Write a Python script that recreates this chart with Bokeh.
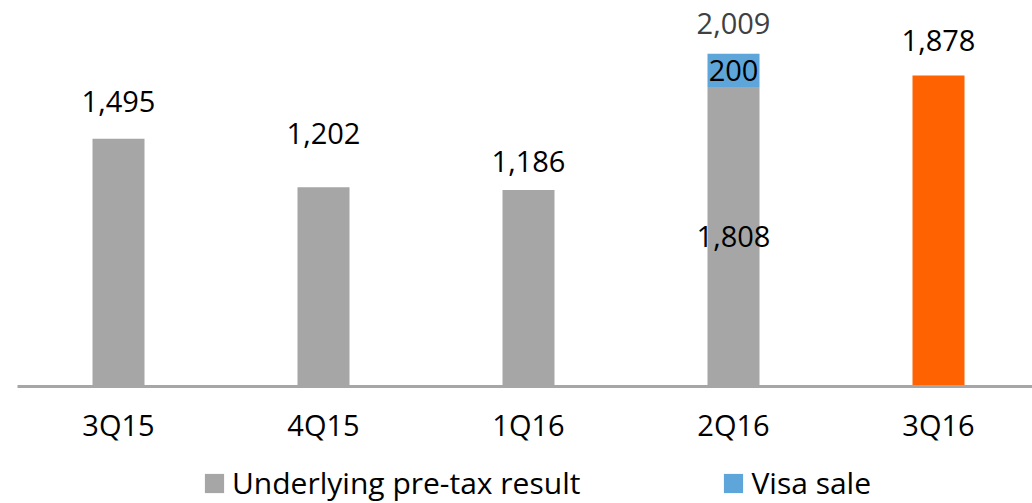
from bokeh.plotting import figure
from bokeh.layouts import column
from bokeh.models import ColumnDataSource, Range1d, FixedTicker, Legend, LegendItem
from bokeh.core.properties import value
from bokeh.embed import file_html
from bokeh.resources import INLINE

categories = ["3Q15", "4Q15", "1Q16", "2Q16", "3Q16"]
underlying = [1495, 1202, 1186, 1808, 1878]
visa_sale = [0, 0, 0, 200, 0]
total_2q16 = 2009
series_names = ["Underlying pre-tax result", "Visa sale"]
label_offsets_px = [-37, -54, -29, 0, -35]

FONT = "Open Sans"
GRAY = "#A6A6A6"
ORANGE = "#FF6200"
BLUE = "#5EA5DA"

x = list(range(len(categories)))
colors = [GRAY] * 4 + [ORANGE]

p = figure(width=1032, height=463, output_backend="svg", toolbar_location=None,
           x_range=Range1d(-0.4927, 4.4585), y_range=Range1d(0, 2330),
           min_border_left=17, min_border_right=0, min_border_top=0, min_border_bottom=77,
           outline_line_color=None, background_fill_color="white")
p.grid.visible = False
p.yaxis.visible = False

src = ColumnDataSource(dict(x=x, top=underlying, color=colors))
p.vbar(x="x", top="top", bottom=0, width=0.2537, fill_color="color",
       line_color=None, source=src)

idx = [i for i in range(len(x)) if visa_sale[i] > 0]
vsrc = ColumnDataSource(dict(x=[x[i] for i in idx],
                             bottom=[underlying[i] for i in idx],
                             top=[underlying[i] + visa_sale[i] for i in idx]))
p.vbar(x="x", top="top", bottom="bottom", width=0.2537, fill_color=BLUE,
       line_color=None, source=vsrc)

lab_x, lab_y, lab_t, lab_off = [], [], [], []
for i, v in enumerate(underlying):
    lab_x.append(x[i])
    lab_y.append(v / 2 if visa_sale[i] > 0 else v)
    lab_t.append(f"{v:,}")
    lab_off.append(label_offsets_px[i])
lsrc = ColumnDataSource(dict(x=lab_x, y=lab_y, t=lab_t, off=lab_off))
p.text(x="x", y="y", text="t", y_offset="off", source=lsrc, text_align="center",
       text_baseline="middle", text_font=value(FONT), text_font_size="29px",
       text_color="#000000")

for i in idx:
    v = visa_sale[i]
    p.text(x=[x[i]], y=[underlying[i] + v / 2], text=[f"{v:,}"], text_align="center",
           text_baseline="middle", text_font=value(FONT), text_font_size="29px",
           text_color="#000000")
    p.text(x=[x[i]], y=[underlying[i] + v], text=[f"{total_2q16:,}"], y_offset=-30,
           text_align="center", text_baseline="middle", text_font=value(FONT),
           text_font_size="29px", text_color="#404040")

ax = p.xaxis[0]
ax.ticker = FixedTicker(ticks=x)
ax.major_label_overrides = {i: c for i, c in zip(x, categories)}
ax.axis_line_color = GRAY
ax.axis_line_width = 3
ax.major_tick_line_color = None
ax.minor_tick_line_color = None
ax.major_tick_out = 0
ax.major_tick_in = 0
ax.major_label_standoff = 18
ax.major_label_text_font = FONT
ax.major_label_text_font_size = "29px"
ax.major_label_text_color = "#000000"

# legend strip (legend swatches come from zero-size glyphs of the same colours)
lg = figure(width=1032, height=40, output_backend="svg", toolbar_location=None,
            x_range=Range1d(0, 1), y_range=Range1d(0, 1),
            x_axis_location=None, y_axis_location=None,
            min_border=0, min_border_left=17, outline_line_color=None,
            border_fill_color="white", background_fill_color="white")
lg.grid.visible = False
r1 = lg.vbar(x=[0.5], top=[0.5], bottom=[0.5], width=0, fill_color=GRAY, line_color=None)
r2 = lg.vbar(x=[0.5], top=[0.5], bottom=[0.5], width=0, fill_color=BLUE, line_color=None)
legend = Legend(items=[LegendItem(label=series_names[0], renderers=[r1]),
                       LegendItem(label=series_names[1], renderers=[r2])],
                orientation="horizontal", location=(185, 0),
                glyph_width=24, glyph_height=24, label_standoff=6, spacing=141,
                padding=0, margin=0, border_line_color=None, background_fill_alpha=0,
                label_text_font=FONT, label_text_font_size="30px", label_text_color="#000000")
lg.add_layout(legend, "center")

open("out.html", "w").write(file_html(column(p, lg, spacing=0), INLINE))
